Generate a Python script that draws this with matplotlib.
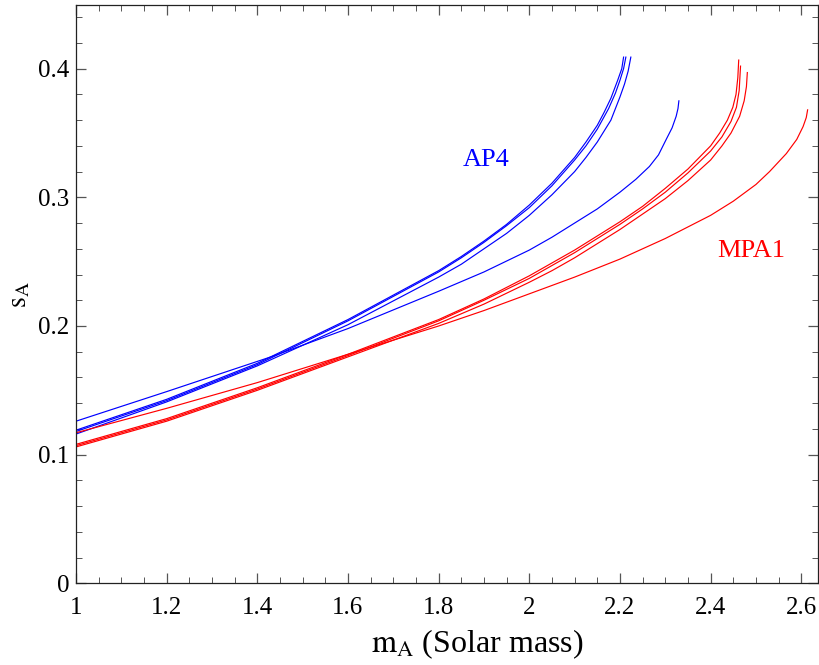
import numpy as np
import matplotlib
matplotlib.use("Agg")
import matplotlib.pyplot as plt
from matplotlib.ticker import MultipleLocator

plt.rcParams['font.family'] = ['Liberation Serif', 'DejaVu Serif']
plt.rcParams['mathtext.fontset'] = 'stix'

# AP4 curves (mass, sensitivity)
ap4_m1 = [1.0, 1.2, 1.4, 1.6, 1.8, 1.85, 1.9, 1.95, 2.0, 2.05, 2.1, 2.125, 2.15, 2.165, 2.18, 2.195, 2.204, 2.208]
ap4_s1 = [0.119, 0.143, 0.171, 0.205, 0.243, 0.254, 0.266, 0.279, 0.294, 0.311, 0.331, 0.343, 0.356, 0.366, 0.377, 0.391, 0.400, 0.409]
ap4_m2 = [1.0, 1.2, 1.4, 1.6, 1.8, 1.85, 1.9, 1.95, 2.0, 2.05, 2.1, 2.125, 2.15, 2.175, 2.19, 2.2, 2.208, 2.213]
ap4_s2 = [0.118, 0.142, 0.170, 0.204, 0.242, 0.253, 0.265, 0.278, 0.292, 0.309, 0.329, 0.340, 0.353, 0.369, 0.381, 0.391, 0.400, 0.409]
ap4_m3 = [1.0, 1.2, 1.4, 1.6, 1.8, 1.85, 1.9, 1.95, 2.0, 2.05, 2.1, 2.125, 2.15, 2.18, 2.2, 2.21, 2.218, 2.224]
ap4_s3 = [0.116, 0.141, 0.169, 0.201, 0.238, 0.248, 0.260, 0.272, 0.286, 0.302, 0.320, 0.331, 0.343, 0.360, 0.378, 0.388, 0.398, 0.409]
ap4_m4 = [1.0, 1.2, 1.43, 1.6, 1.8, 1.9, 2.0, 2.05, 2.1, 2.15, 2.2, 2.235, 2.265, 2.285, 2.302, 2.315, 2.324, 2.328, 2.330]
ap4_s4 = [0.126, 0.149, 0.176, 0.198, 0.227, 0.242, 0.259, 0.269, 0.280, 0.291, 0.304, 0.314, 0.324, 0.333, 0.345, 0.354, 0.363, 0.369, 0.375]

# MPA1 curves
mpa_m1 = [1.0, 1.2, 1.4, 1.6, 1.8, 1.9, 2.0, 2.05, 2.1, 2.15, 2.2, 2.25, 2.3, 2.35, 2.4, 2.42, 2.437, 2.449, 2.456, 2.460, 2.462]
mpa_s1 = [0.108, 0.128, 0.152, 0.178, 0.205, 0.221, 0.239, 0.249, 0.259, 0.270, 0.281, 0.293, 0.307, 0.322, 0.340, 0.350, 0.360, 0.370, 0.380, 0.393, 0.4067]
mpa_m2 = [1.0, 1.2, 1.4, 1.6, 1.8, 1.9, 2.0, 2.05, 2.1, 2.15, 2.2, 2.25, 2.3, 2.35, 2.4, 2.425, 2.445, 2.457, 2.463, 2.466]
mpa_s2 = [0.107, 0.127, 0.151, 0.177, 0.204, 0.220, 0.237, 0.247, 0.257, 0.268, 0.279, 0.291, 0.304, 0.319, 0.336, 0.347, 0.359, 0.370, 0.383, 0.402]
mpa_m3 = [1.0, 1.2, 1.4, 1.6, 1.8, 1.9, 2.0, 2.05, 2.1, 2.15, 2.2, 2.25, 2.3, 2.35, 2.4, 2.425, 2.445, 2.464, 2.474, 2.479, 2.481]
mpa_s3 = [0.106, 0.126, 0.150, 0.176, 0.202, 0.217, 0.234, 0.243, 0.253, 0.264, 0.275, 0.287, 0.299, 0.313, 0.329, 0.340, 0.350, 0.363, 0.375, 0.386, 0.397]
mpa_m4 = [1.0, 1.2, 1.4, 1.6, 1.8, 1.9, 2.0, 2.1, 2.2, 2.3, 2.35, 2.4, 2.45, 2.5, 2.53, 2.567, 2.59, 2.604, 2.611, 2.614]
mpa_s4 = [0.117, 0.136, 0.156, 0.178, 0.200, 0.212, 0.225, 0.238, 0.252, 0.268, 0.277, 0.286, 0.297, 0.310, 0.320, 0.334, 0.345, 0.355, 0.362, 0.368]

fig = plt.figure(figsize=(8.2, 6.65), dpi=100)
ax = fig.add_axes([76 / 820, 1 - 583.3 / 665, (818.5 - 76) / 820, (583.3 - 5) / 665])

for m, s in [(ap4_m1, ap4_s1), (ap4_m2, ap4_s2), (ap4_m3, ap4_s3), (ap4_m4, ap4_s4)]:
    ax.plot(m, s, color=(0, 0, 1), lw=0.85)
for m, s in [(mpa_m1, mpa_s1), (mpa_m2, mpa_s2), (mpa_m3, mpa_s3), (mpa_m4, mpa_s4)]:
    ax.plot(m, s, color=(1, 0, 0), lw=0.85)

ax.text(1.905, 0.329, "AP4", color=(0, 0, 1), fontsize=19, ha="center", va="center")
ax.text(2.49, 0.258, "MPA1", color=(1, 0, 0), fontsize=19, ha="center", va="center")

ax.set_xlim(1, 2.638)
ax.set_ylim(0, 0.4495)
ax.xaxis.set_minor_locator(MultipleLocator(0.05))
ax.yaxis.set_minor_locator(MultipleLocator(0.02))
ax.set_xticks([1, 1.2, 1.4, 1.6, 1.8, 2, 2.2, 2.4, 2.6])
ax.set_xticklabels(["1", "1.2", "1.4", "1.6", "1.8", "2", "2.2", "2.4", "2.6"])
ax.set_yticks([0, 0.1, 0.2, 0.3, 0.4])
ax.set_yticklabels(["0", "0.1", "0.2", "0.3", "0.4"])

ax.tick_params(which="both", direction="in", top=True, right=True, color="#555555",
               labelsize=18, labelcolor="black")
ax.tick_params(which="major", length=7.5, width=0.9)
ax.tick_params(which="minor", length=4, width=0.7)
ax.tick_params(axis="x", which="major", pad=10)
ax.tick_params(axis="y", which="major", pad=5)
for sp in ax.spines.values():
    sp.set_linewidth(0.9)
    sp.set_color("#222222")

ax.set_xlabel(r"$\mathrm{m}_\mathrm{A}$ (Solar mass)", fontsize=23)
ax.xaxis.set_label_coords(0.541, -0.077)
ax.set_ylabel(r"$\mathrm{s}_\mathrm{A}$", fontsize=20, labelpad=4)

fig.savefig("out.png", dpi=100)
